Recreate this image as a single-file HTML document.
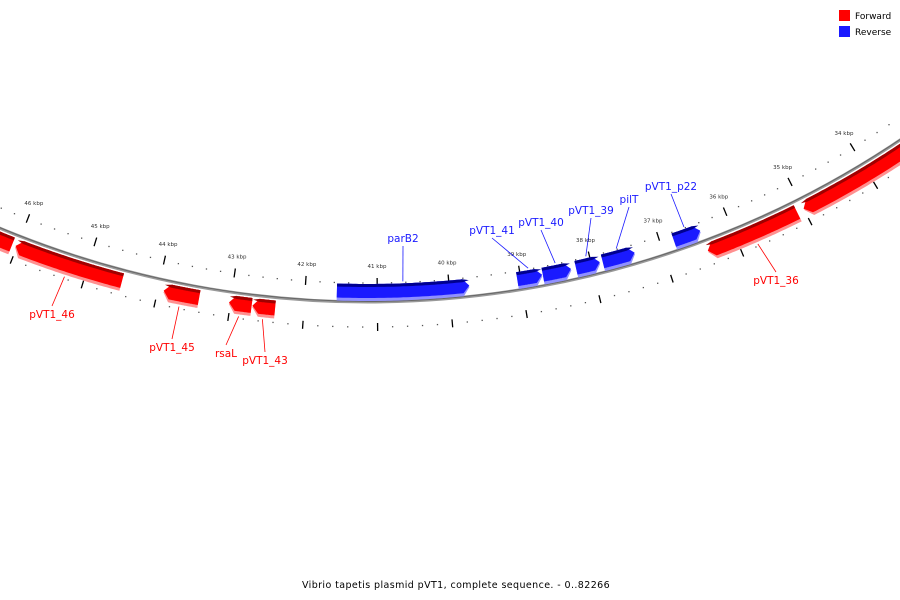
<!DOCTYPE html>
<html><head><meta charset="utf-8"><style>
body{margin:0;background:#fff;width:900px;height:600px;overflow:hidden}
svg{display:block;font-family:"DejaVu Sans","Liberation Sans",sans-serif}
</style></head><body>
<svg id="map" width="900" height="600" viewBox="0 0 900 600">
<g id="ticks"></g>
<circle cx="368" cy="-653" r="955" fill="none" stroke="#999" stroke-width="3"/>
<circle cx="368" cy="-653" r="954.5" fill="none" stroke="#666" stroke-width="1"/>
<g id="genes"></g>
<g id="labels"></g>
<g>
<rect x="839" y="10" width="11" height="11" fill="#ff0000"/>
<text x="855" y="19" font-size="9" fill="#000">Forward</text>
<rect x="839" y="26" width="11" height="11" fill="#1a1aff"/>
<text x="855" y="35" font-size="9" fill="#000">Reverse</text>
</g>
<text x="456" y="588" font-size="9.5" text-anchor="middle" letter-spacing="0.4" fill="#000">Vibrio tapetis plasmid pVT1, complete sequence. - 0..82266</text>
</svg>
<script>
const geneNames = ["pVT1_47","pVT1_46","pVT1_45","rsaL","pVT1_43","pVT1_36","pVT1_35","parB2","pVT1_41","pVT1_40","pVT1_39","pilT","pVT1_p22"];
const geneStart = [47.0,46.02,43.92,43.02,42.70,36.42,35.00,41.56,39.05,38.69,38.22,37.84,36.81];
const geneEnd   = [46.07,44.50,43.43,42.71,42.39,35.10,33.0,39.72,38.70,38.29,37.88,37.38,36.42];
const geneStrand = ["F","F","F","F","F","F","F","R","R","R","R","R","R"];
const geneShowLabel = [false,true,true,true,true,true,false,true,true,true,true,true,true];
const labelX = [0,52,172,226,265,776,0,403,492,541,591,629,671];
const labelY = [0,318,351,357,364,284,0,242,234,226,214,203,190];
const tickKbp = [34,35,36,37,38,39,40,41,42,43,44,45,46,47];

const NS="http://www.w3.org/2000/svg";
const CX=368, CY=-653, TOTAL=82.266;
function theta(k){return 0.0098-(k-41)*2*Math.PI/TOTAL;}
function pt(k,r){const t=theta(k);return [CX+r*Math.sin(t),CY+r*Math.cos(t)];}
function mk(tag,attrs,parent){const e=document.createElementNS(NS,tag);for(const a in attrs)e.setAttribute(a,attrs[a]);parent.appendChild(e);return e;}

const tg=document.getElementById('ticks');
for(let i=Math.round(33*5);i<=Math.round(47.5*5);i++){
  const k=i/5, major=(i%5===0);
  for(const ring of [[936,931,940],[980,976,984]]){
    if(major){const a=pt(k,ring[1]),b=pt(k,ring[2]);
      const l=mk('line',{x1:a[0],y1:a[1],x2:b[0],y2:b[1],stroke:'#000','stroke-width':1.3},tg);
      
      
    } else {const a=pt(k,ring[0]);
      const c=mk('rect',{x:a[0]-0.6,y:a[1]-0.6,width:1.3,height:1.3,fill:'#555'},tg);
      
      }
  }
}
tickKbp.forEach(k=>{const p=pt(k,919);
  const t=mk('text',{x:p[0],y:p[1]+2,'font-size':5.5,'text-anchor':'middle',fill:'#333'},tg);
  t.textContent=k+' kbp';
  
  
});

function arcPts(k1,k2,r){const n=40,o=[];for(let i=0;i<=n;i++){o.push(pt(k1+(k2-k1)*i/n,r));}return o;}
function bandPath(k1,k2,r1,r2,tipAtStart){
  // k1 > k2 ; arrow tip length in kbp
  const tip=Math.min(0.09,(k1-k2)*0.5);
  let a1=k1,a2=k2;
  if(tipAtStart)a1=k1-tip; else a2=k2+tip;
  const inner=arcPts(a1,a2,r1), outer=arcPts(a2,a1,r2);
  let pts=[...inner];
  if(!tipAtStart)pts.push(pt(k2,(r1+r2)/2));
  pts=pts.concat(outer);
  if(tipAtStart)pts.push(pt(k1,(r1+r2)/2));
  return 'M'+pts.map(p=>p[0].toFixed(1)+','+p[1].toFixed(1)).join('L')+'Z';
}
const gg=document.getElementById('genes'), lg=document.getElementById('labels');
geneNames.forEach((name,i)=>{
  const f=geneStrand[i]==='F';
  const k1=Math.max(geneStart[i],geneEnd[i]), k2=Math.min(geneStart[i],geneEnd[i]);
  const r1=f?958:937, r2=f?976:954;
  const cols=f?['#ff9090','#ff0000','#a00000']:['#9090ff','#1a1aff','#000090'];
  const g=mk('g',{},gg);
  
  
  mk('path',{d:bandPath(k1,k2,r1,r2,f),fill:cols[0]},g);
  mk('path',{d:bandPath(k1,k2,r1,r2-3,f),fill:cols[1]},g);
  mk('path',{d:bandPath(k1,k2,r1,r1+3,f),fill:cols[2]},g);
  if(geneShowLabel[i]){
    const mid=(k1+k2)/2, s=pt(mid,f?r2+2:r1-2);
    const col=f?'#ff0000':'#1a1aff';
    const ly=f?labelY[i]-12:labelY[i]+4;
    const l=mk('line',{x1:s[0],y1:s[1],x2:labelX[i],y2:ly,stroke:col,'stroke-width':0.8},lg);
    
    
    const t=mk('text',{x:labelX[i],y:labelY[i],'font-size':10.5,'text-anchor':'middle',fill:col},lg);
    t.textContent=name;
    
    
  }
});
</script>
</body></html>
